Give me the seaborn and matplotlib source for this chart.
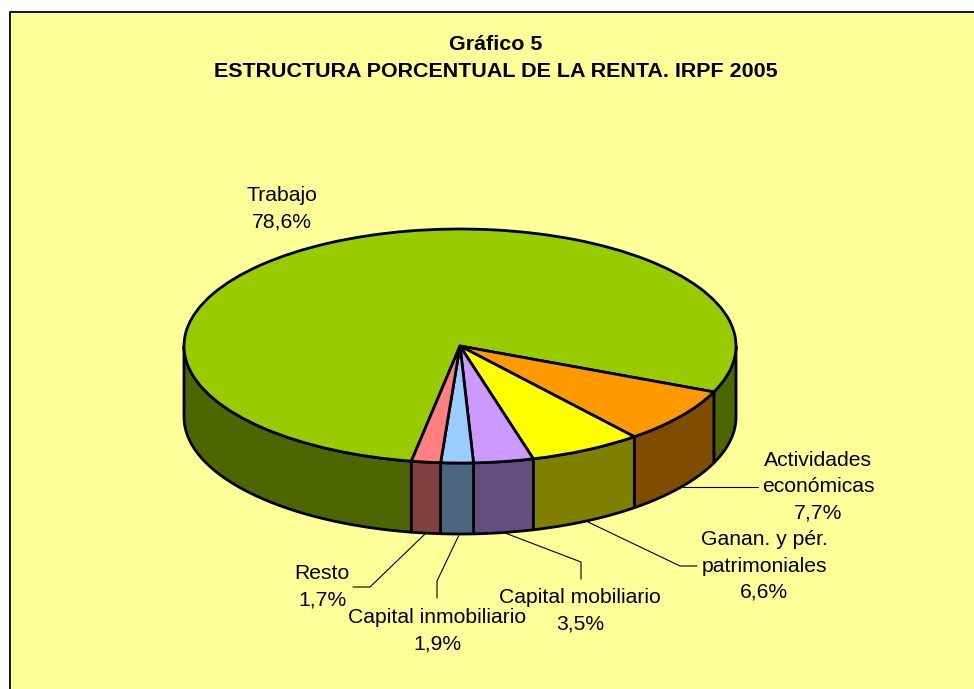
import numpy as np
import matplotlib
matplotlib.use("Agg")
import matplotlib.pyplot as plt
from matplotlib.patches import Rectangle
from matplotlib.transforms import Affine2D
import seaborn as sns

categories = ["Trabajo", "Actividades\neconómicas", "Ganan. y pér.\npatrimoniales",
              "Capital mobiliario", "Capital inmobiliario", "Resto"]
values = [78.6, 7.7, 6.6, 3.5, 1.9, 1.7]
top_colors = ["#99CC00", "#FF9900", "#FFFF00", "#CC99FF", "#99CCFF", "#FF8080"]
wall_colors = ["#4D6600", "#804D00", "#808000", "#664D80", "#4D6680", "#804040"]
title_text = "Gráfico 5\nESTRUCTURA PORCENTUAL DE LA RENTA. IRPF 2005"
label_centers = [(282, 209), (818, 487), (764, 566), (580, 611), (437, 631), (322, 587)]
leaders = [None,
           [(758, 487), (683, 487)],
           [(697, 566), (680, 566), (588, 522)],
           [(581, 579), (581, 562), (505, 533)],
           [(437, 598), (437, 581), (459, 535)],
           [(353, 587), (370, 587), (425, 534)]]

W, H = 974, 689
CX, CY, A, B, DEPTH = 460, 346, 276, 117, 71
START = 259.85

sns.set_theme(style="white")
plt.rcParams["font.family"] = ["Liberation Sans", "DejaVu Sans"]
fig = plt.figure(figsize=(W / 100, H / 100), dpi=100, facecolor="white")
ax = fig.add_axes([0, 0, 1, 1])
px = Affine2D().scale(1, -1).translate(0, H)

ax.add_patch(Rectangle((10, 12), W + 20, H + 20, transform=px, fc="#FFFF99",
                       ec="black", lw=1.3, zorder=0, clip_on=False))

# side walls, one per slice, only for the front half of the ellipse
d = DEPTH / B
edges = START - np.cumsum([0] + values) * 3.6
for i in range(len(values)):
    hi, lo = edges[i], edges[i + 1]
    for front_lo, front_hi in ((180, 360), (-180, 0)):
        a0, a1 = max(lo, front_lo), min(hi, front_hi)
        if a1 <= a0:
            continue
        t = np.radians(np.linspace(a0, a1, 60))
        xs = np.r_[np.cos(t), np.cos(t[::-1])]
        ys = np.r_[np.sin(t), np.sin(t[::-1]) - d]
        ax.fill(xs, ys, fc=wall_colors[i], ec="black", lw=2.0, joinstyle="round")

ax.pie(values, colors=top_colors, startangle=START, counterclock=False, radius=1,
       wedgeprops=dict(edgecolor="black", linewidth=2.0))
ax.set_aspect("auto")
ax.set_xlim(-CX / A, (W - CX) / A)
ax.set_ylim((CY - H) / B, CY / B)
ax.axis("off")

ax.text(496, 58, title_text, transform=px, ha="center", va="center", fontsize=15.45,
        fontweight="bold", linespacing=1.56, color="black")

for name, v, (x, y), pts in zip(categories, values, label_centers, leaders):
    label = name + "\n" + f"{v:.1f}%".replace(".", ",")
    ax.text(x, y, label, transform=px, ha="center", va="center", fontsize=15.2,
            linespacing=1.49, color="black", zorder=5)
    if pts:
        ax.plot(*zip(*pts), transform=px, color="black", lw=0.8, clip_on=False, zorder=4)

fig.savefig("out.png", dpi=100, facecolor="white")
